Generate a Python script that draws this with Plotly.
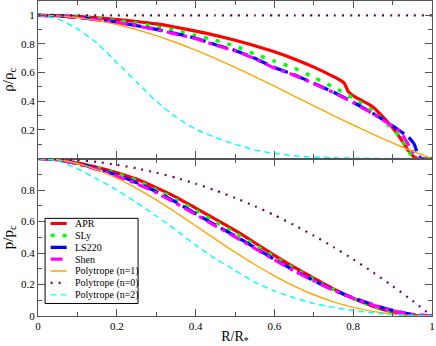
"""Density and pressure profiles of neutron star EOS vs polytropes."""

import plotly.graph_objects as go
from plotly.subplots import make_subplots

# ---------------------------------------------------------------- data
r_grid = [0, 0.05, 0.1, 0.15, 0.2, 0.25, 0.3, 0.35, 0.4, 0.45, 0.5,
          0.55, 0.6, 0.65, 0.7, 0.75, 0.8, 0.85, 0.9, 0.95, 1.0]

# top panel: rho / rho_c
r_apr_rho = [0, 0.05, 0.1, 0.15, 0.2, 0.25, 0.3, 0.35, 0.4, 0.45, 0.5, 0.55,
             0.6, 0.65, 0.7, 0.75, 0.77, 0.777, 0.787, 0.797, 0.81, 0.85,
             0.9, 0.92, 0.94, 0.955, 0.97, 1.0]
apr_rho = [1, 0.998, 0.992, 0.983, 0.971, 0.957, 0.94, 0.917, 0.89, 0.86,
           0.826, 0.788, 0.745, 0.695, 0.638, 0.572, 0.542, 0.528, 0.47,
           0.443, 0.422, 0.36, 0.215, 0.14, 0.055, 0.01, 0, 0]

r_sly_rho = [0, 0.05, 0.1, 0.15, 0.2, 0.25, 0.3, 0.35, 0.4, 0.45, 0.5, 0.55,
             0.6, 0.65, 0.7, 0.75, 0.8, 0.85, 0.9, 0.92, 0.935, 0.95, 0.96,
             1.0]
sly_rho = [1, 0.998, 0.99, 0.977, 0.962, 0.945, 0.92, 0.893, 0.86, 0.826,
           0.785, 0.73, 0.68, 0.632, 0.567, 0.498, 0.422, 0.33, 0.205, 0.149,
           0.075, 0.015, 0, 0]

r_ls220_rho = [0, 0.05, 0.1, 0.15, 0.2, 0.25, 0.3, 0.35, 0.4, 0.45, 0.5,
               0.55, 0.6, 0.65, 0.7, 0.75, 0.8, 0.85, 0.9, 0.92, 0.94, 0.955,
               0.965, 0.975, 1.0]
ls220_rho = [1, 0.997, 0.985, 0.97, 0.952, 0.928, 0.902, 0.872, 0.84, 0.795,
             0.755, 0.70, 0.635, 0.585, 0.525, 0.463, 0.393, 0.315, 0.228,
             0.19, 0.15, 0.10, 0.02, 0, 0]

r_shen_rho = [0, 0.05, 0.1, 0.15, 0.2, 0.25, 0.3, 0.35, 0.4, 0.45, 0.5,
              0.55, 0.6, 0.65, 0.7, 0.75, 0.8, 0.85, 0.9, 0.92, 0.935, 0.95,
              0.96, 1.0]
shen_rho = [1, 0.997, 0.984, 0.968, 0.95, 0.926, 0.9, 0.869, 0.837, 0.792,
            0.752, 0.697, 0.632, 0.582, 0.522, 0.46, 0.39, 0.312, 0.225,
            0.185, 0.12, 0.05, 0, 0]

poly1_rho = [1, 0.996, 0.984, 0.963, 0.936, 0.900, 0.858, 0.810, 0.757,
             0.699, 0.637, 0.572, 0.505, 0.436, 0.368, 0.300, 0.234, 0.170,
             0.109, 0.052, 0]
poly0_rho = [1, 1, 1, 1, 1, 1, 1, 1, 1, 1, 1, 1, 1, 1, 1, 1, 1, 1, 1, 1, 1]
poly2_rho = [1, 0.975, 0.905, 0.805, 0.67, 0.535, 0.40, 0.29, 0.205, 0.147,
             0.10, 0.06, 0.035, 0.019, 0.01, 0.005, 0.003, 0.0015, 0.0007,
             0.0002, 0]

# bottom panel: p / p_c
apr_p = [1, 0.993, 0.972, 0.944, 0.91, 0.87, 0.815, 0.755, 0.685, 0.615,
         0.543, 0.465, 0.385, 0.31, 0.24, 0.172, 0.112, 0.062, 0.025, 0.004, 0]
sly_p = [1, 0.993, 0.97, 0.94, 0.903, 0.86, 0.803, 0.74, 0.67, 0.598, 0.527,
         0.452, 0.375, 0.302, 0.233, 0.168, 0.11, 0.063, 0.027, 0.006, 0]
ls220_p = [1, 0.992, 0.968, 0.935, 0.895, 0.847, 0.79, 0.723, 0.65, 0.578,
           0.508, 0.435, 0.36, 0.29, 0.225, 0.165, 0.115, 0.072, 0.036, 0.01, 0]
shen_p = [1, 0.991, 0.965, 0.93, 0.888, 0.84, 0.783, 0.716, 0.645, 0.572,
          0.502, 0.43, 0.356, 0.287, 0.223, 0.163, 0.113, 0.07, 0.034, 0.009, 0]
poly1_p = [1, 0.992, 0.968, 0.928, 0.875, 0.811, 0.737, 0.657, 0.573, 0.488,
           0.405, 0.327, 0.255, 0.190, 0.135, 0.090, 0.055, 0.029, 0.012,
           0.003, 0]
poly0_p = [1, 0.9975, 0.99, 0.9775, 0.96, 0.9375, 0.91, 0.8775, 0.84, 0.7975,
           0.75, 0.6975, 0.64, 0.5775, 0.51, 0.4375, 0.36, 0.2775, 0.19,
           0.0975, 0]
poly2_p = [1, 0.985, 0.935, 0.87, 0.80, 0.72, 0.635, 0.545, 0.45, 0.365,
           0.29, 0.215, 0.16, 0.115, 0.08, 0.055, 0.035, 0.02, 0.01, 0.004,
           0.001]

x_ticks = [0, 0.2, 0.4, 0.6, 0.8, 1]
rho_ticks = [0.2, 0.4, 0.6, 0.8, 1]
p_ticks = [0, 0.2, 0.4, 0.6, 0.8]

# ---------------------------------------------------------------- styles
FONT = "Liberation Serif, Times New Roman, serif"
FRAME = "#555555"

# name, rho x, rho y, p y, colour, width, dash
series = [
    ("APR", r_apr_rho, apr_rho, apr_p, "#ff0000", 3.2, "solid"),
    ("SLy", r_sly_rho, sly_rho, sly_p, "#00ff00", 3.5, "4px,8px"),
    ("LS220", r_ls220_rho, ls220_rho, ls220_p, "#0000ff", 3.2, "16px,6px"),
    ("Shen", r_shen_rho, shen_rho, shen_p, "#ff00ff", 3.2,
     "12px,5px,4px,5px"),
    ("Polytrope (n=1)", r_grid, poly1_rho, poly1_p, "#ffa500", 1.4, "solid"),
    ("Polytrope (n=0)", r_grid, poly0_rho, poly0_p, "#6b0a4a", 2.2, "2px,6px"),
    ("Polytrope (n=2)", r_grid, poly2_rho, poly2_p, "#00ffff", 1.4, "6px,4px"),
]

fig = make_subplots(rows=2, cols=1, shared_xaxes=True, vertical_spacing=0)

for name, r_rho, rho, p, color, width, dash in series:
    line = dict(color=color, width=width, dash=dash, shape="spline",
                smoothing=0.6)
    fig.add_trace(go.Scatter(x=r_rho, y=rho, mode="lines", name=name,
                             line=line, showlegend=False), row=1, col=1)
    fig.add_trace(go.Scatter(x=r_grid, y=p, mode="lines", name=name,
                             line=line, showlegend=False), row=2, col=1)

# plotly's own legend has a 19px minimum row height, far taller than the
# reference box, so the key is drawn by hand inside the lower panel
leg_x0, leg_x1 = 0.018, 0.254
leg_top, row_h = 0.62, 0.0755
fig.add_shape(type="rect", xref="x2", yref="y2", x0=leg_x0, x1=leg_x1,
              y0=leg_top - 7 * row_h - 0.012, y1=leg_top,
              line=dict(color="black", width=1), fillcolor="white", layer="above")
for i, (name, _, _, _, color, width, dash) in enumerate(series):
    yy = leg_top - row_h * (i + 0.5) + 0.005
    fig.add_shape(type="line", xref="x2", yref="y2", x0=0.032, x1=0.073,
                  y0=yy, y1=yy, layer="above",
                  line=dict(color=color, width=width, dash=dash))
    fig.add_annotation(x=0.088, y=yy, xref="x2", yref="y2", text=name,
                       showarrow=False, xanchor="left", yanchor="middle",
                       font=dict(family=FONT, size=10, color="black"))

axis_common = dict(
    showline=True, linecolor=FRAME, linewidth=1.2, mirror="allticks",
    ticks="inside", ticklen=7, tickwidth=1, tickcolor=FRAME,
    showgrid=False, zeroline=False,
    tickfont=dict(family=FONT, size=11, color="black"),
)

fig.update_xaxes(range=[0, 1], tickvals=x_ticks,
                 minor=dict(dtick=0.1, tick0=0, ticks="inside", ticklen=4,
                            tickcolor=FRAME),
                 **axis_common)
fig.update_xaxes(showticklabels=False, row=1, col=1)
fig.update_xaxes(title=dict(text="R/R<sub>*</sub>", standoff=2,
                            font=dict(family=FONT, size=14, color="black")),
                 row=2, col=1)

fig.update_yaxes(minor=dict(dtick=0.1, tick0=0, ticks="inside", ticklen=4,
                            tickcolor=FRAME),
                 **axis_common)
fig.update_yaxes(range=[0, 1.1], tickvals=rho_ticks, domain=[0.5, 1],
                 title=dict(text="ρ/ρ<sub>c</sub>", standoff=4,
                            font=dict(family=FONT, size=15, color="black")),
                 row=1, col=1)
fig.update_yaxes(range=[0, 1], tickvals=p_ticks, domain=[0, 0.5],
                 title=dict(text="p/p<sub>c</sub>", standoff=4,
                            font=dict(family=FONT, size=15, color="black")),
                 row=2, col=1)

fig.update_layout(
    width=436, height=346,
    margin=dict(l=38, r=4, t=1, b=30),
    plot_bgcolor="white", paper_bgcolor="white",
    font=dict(family=FONT, color="black"),
)

# the page template leaves the browser's 8px body margin in place
fig.write_html("out.html", config={"displayModeBar": False},
               post_script="document.body.style.margin = '0';")
